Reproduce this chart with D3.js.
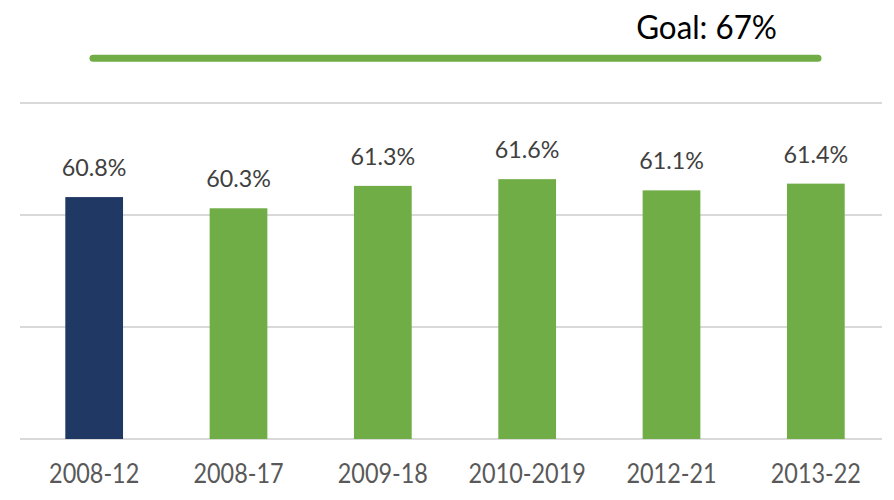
<!DOCTYPE html>
<html>
<head>
<meta charset="utf-8">
<script src="https://cdn.jsdelivr.net/npm/d3@7"></script>
<style>
  html, body { margin: 0; padding: 0; background: #fff; }
  svg { display: block; }
</style>
</head>
<body>
<svg id="chart" width="894" height="500"></svg>
<script>
// Graduation-rate cohorts and their values (percent)
const cohorts = ["2008-12", "2008-17", "2009-18", "2010-2019", "2012-21", "2013-22"];
const rates = [60.8, 60.3, 61.3, 61.6, 61.1, 61.4];
const gridTicks = [50, 55, 60, 65];
const goalValue = 67;
const goalLabel = "Goal: 67%";

const svg = d3.select("#chart");

const x = d3.scaleBand()
  .domain(cohorts)
  .range([22, 888])
  .paddingInner(0.6)
  .paddingOuter(0.3);

const y = d3.scaleLinear()
  .domain([50, 65])
  .range([439, 103]);

// Squeeze a text run horizontally so it reads like a narrower face
function condense(sel, factor) {
  sel.each(function () {
    const w = this.getComputedTextLength();
    d3.select(this)
      .attr("textLength", w * factor)
      .attr("lengthAdjust", "spacingAndGlyphs");
  });
}

// Horizontal gridlines
svg.append("g")
  .selectAll("line")
  .data(gridTicks)
  .join("line")
  .attr("x1", 20)
  .attr("x2", 882)
  .attr("y1", d => y(d))
  .attr("y2", d => y(d))
  .attr("stroke", "#d9d9d9")
  .attr("stroke-width", 2);

// Bars: the first cohort is the baseline, shown in navy
svg.append("g")
  .selectAll("rect")
  .data(rates)
  .join("rect")
  .attr("x", (d, i) => x(cohorts[i]))
  .attr("width", x.bandwidth())
  .attr("y", d => y(d))
  .attr("height", d => y(50) - y(d))
  .attr("fill", (d, i) => i === 0 ? "#203864" : "#70ad47");

// Value labels above bars
svg.append("g")
  .selectAll("text")
  .data(rates)
  .join("text")
  .attr("x", (d, i) => x(cohorts[i]) + x.bandwidth() / 2)
  .attr("y", d => y(d) - 21)
  .attr("text-anchor", "middle")
  .attr("font-family", "Lato, 'Open Sans', sans-serif")
  .attr("font-size", 24)
  .attr("fill", "#404040")
  .text(d => d.toFixed(1) + "%")
  .call(condense, 0.97);

// Category axis labels
const xAxis = svg.append("g")
  .attr("transform", `translate(0,${y(50)})`)
  .call(d3.axisBottom(x).tickSize(0).tickPadding(0));
xAxis.select(".domain").remove();
xAxis.selectAll("text")
  .attr("dy", null)
  .attr("y", 44)
  .attr("font-family", "Lato, 'Open Sans', sans-serif")
  .attr("font-size", 26)
  .attr("fill", "#595959")
  .call(condense, 0.9);

// Goal line
svg.append("line")
  .attr("x1", 93)
  .attr("x2", 818)
  .attr("y1", y(goalValue))
  .attr("y2", y(goalValue))
  .attr("stroke", "#70ad47")
  .attr("stroke-width", 7)
  .attr("stroke-linecap", "round");

svg.append("text")
  .attr("x", 777)
  .attr("y", 39)
  .attr("text-anchor", "end")
  .attr("font-family", "Lato, 'Open Sans', sans-serif")
  .attr("font-size", 33)
  .attr("fill", "#000")
  .text(goalLabel)
  .call(condense, 0.95);
</script>
</body>
</html>
